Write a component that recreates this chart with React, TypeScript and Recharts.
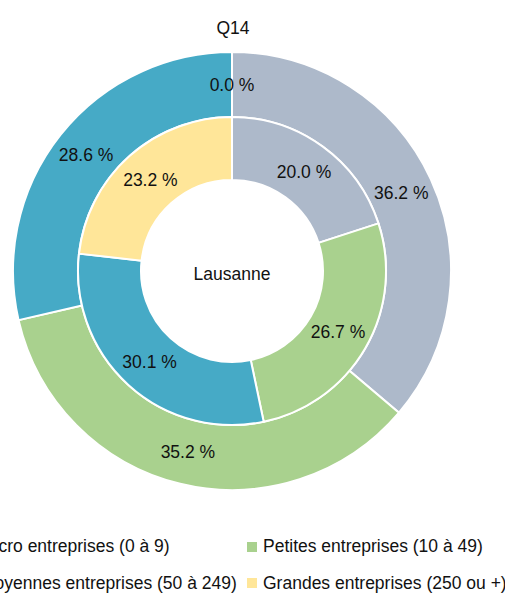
import React from "react";
import { PieChart, Pie, Cell, Legend } from "recharts";

const categories = [
  "Micro entreprises (0 à 9)",
  "Petites entreprises (10 à 49)",
  "Moyennes entreprises (50 à 249)",
  "Grandes entreprises (250 ou +)",
];
const outerValues = [36.2, 35.2, 28.6, 0.0];
const innerValues = [20.0, 26.7, 30.1, 23.2];
const colors = ["#ADB9CA", "#A9D18E", "#46AAC6", "#FFE699"];
const title = "Q14";
const centerLabel = "Lausanne";

const outerData = categories.map((name, i) => ({ name, value: outerValues[i] }));
const innerData = categories.map((name, i) => ({ name, value: innerValues[i] }));

const FONT = "'Liberation Sans', Arial, sans-serif";
const RAD = Math.PI / 180;

const renderLabel = (props: any) => {
  const { cx, cy, midAngle, innerRadius, outerRadius, value } = props;
  const r = (innerRadius + outerRadius) / 2;
  const x = cx + r * Math.cos(-midAngle * RAD);
  const y = cy + r * Math.sin(-midAngle * RAD);
  return (
    <text
      x={x}
      y={y}
      textAnchor="middle"
      dominantBaseline="central"
      fill="#111"
      fontSize={17.5}
      fontFamily={FONT}
    >
      {Number(value).toFixed(1) + " %"}
    </text>
  );
};

const LegendContent = () => {
  const cols = [-36, 247];
  const rows = [546.5, 583];
  return (
    <div style={{ position: "relative", width: 505, height: 64 }}>
      {categories.map((c, i) => {
        const left = cols[i % 2];
        const top = rows[Math.floor(i / 2)] - 530;
        return (
          <div
            key={c}
            style={{
              position: "absolute",
              left,
              top: top - 11,
              height: 22,
              display: "flex",
              alignItems: "center",
              whiteSpace: "nowrap",
              fontFamily: FONT,
              fontSize: 17.5,
              color: "#111",
            }}
          >
            <span
              style={{
                display: "inline-block",
                width: 10,
                height: 10,
                background: colors[i],
                marginRight: 6,
              }}
            />
            <span>{c}</span>
          </div>
        );
      })}
    </div>
  );
};

export default function App() {
  return (
    <div style={{ position: "absolute", left: 0, top: 0, width: 505, height: 594, overflow: "hidden" }}>
      <PieChart width={505} height={594} margin={{ top: 0, right: 0, bottom: 0, left: 0 }}>
        <text
          x={233}
          y={28}
          textAnchor="middle"
          dominantBaseline="central"
          fontSize={17.5}
          fontFamily={FONT}
          fill="#111"
        >
          {title}
        </text>
        <Pie
          data={outerData}
          dataKey="value"
          nameKey="name"
          cx={232}
          cy={271}
          innerRadius={154}
          outerRadius={219}
          startAngle={90}
          endAngle={-270}
          stroke="#fff"
          strokeWidth={2}
          label={renderLabel}
          labelLine={false}
          isAnimationActive={false}
        >
          {outerData.map((d, i) => (
            <Cell key={d.name} fill={colors[i]} />
          ))}
        </Pie>
        <Pie
          data={innerData}
          dataKey="value"
          nameKey="name"
          cx={232}
          cy={271}
          innerRadius={91}
          outerRadius={154}
          startAngle={90}
          endAngle={-270}
          stroke="#fff"
          strokeWidth={2}
          label={renderLabel}
          labelLine={false}
          isAnimationActive={false}
        >
          {innerData.map((d, i) => (
            <Cell key={d.name} fill={colors[i]} />
          ))}
        </Pie>
        <text
          x={232}
          y={274}
          textAnchor="middle"
          dominantBaseline="central"
          fontSize={17.5}
          fontFamily={FONT}
          fill="#111"
        >
          {centerLabel}
        </text>
        <Legend
          content={<LegendContent />}
          wrapperStyle={{ position: "absolute", left: 0, top: 530, width: 505, height: 64 }}
        />
      </PieChart>
    </div>
  );
}
